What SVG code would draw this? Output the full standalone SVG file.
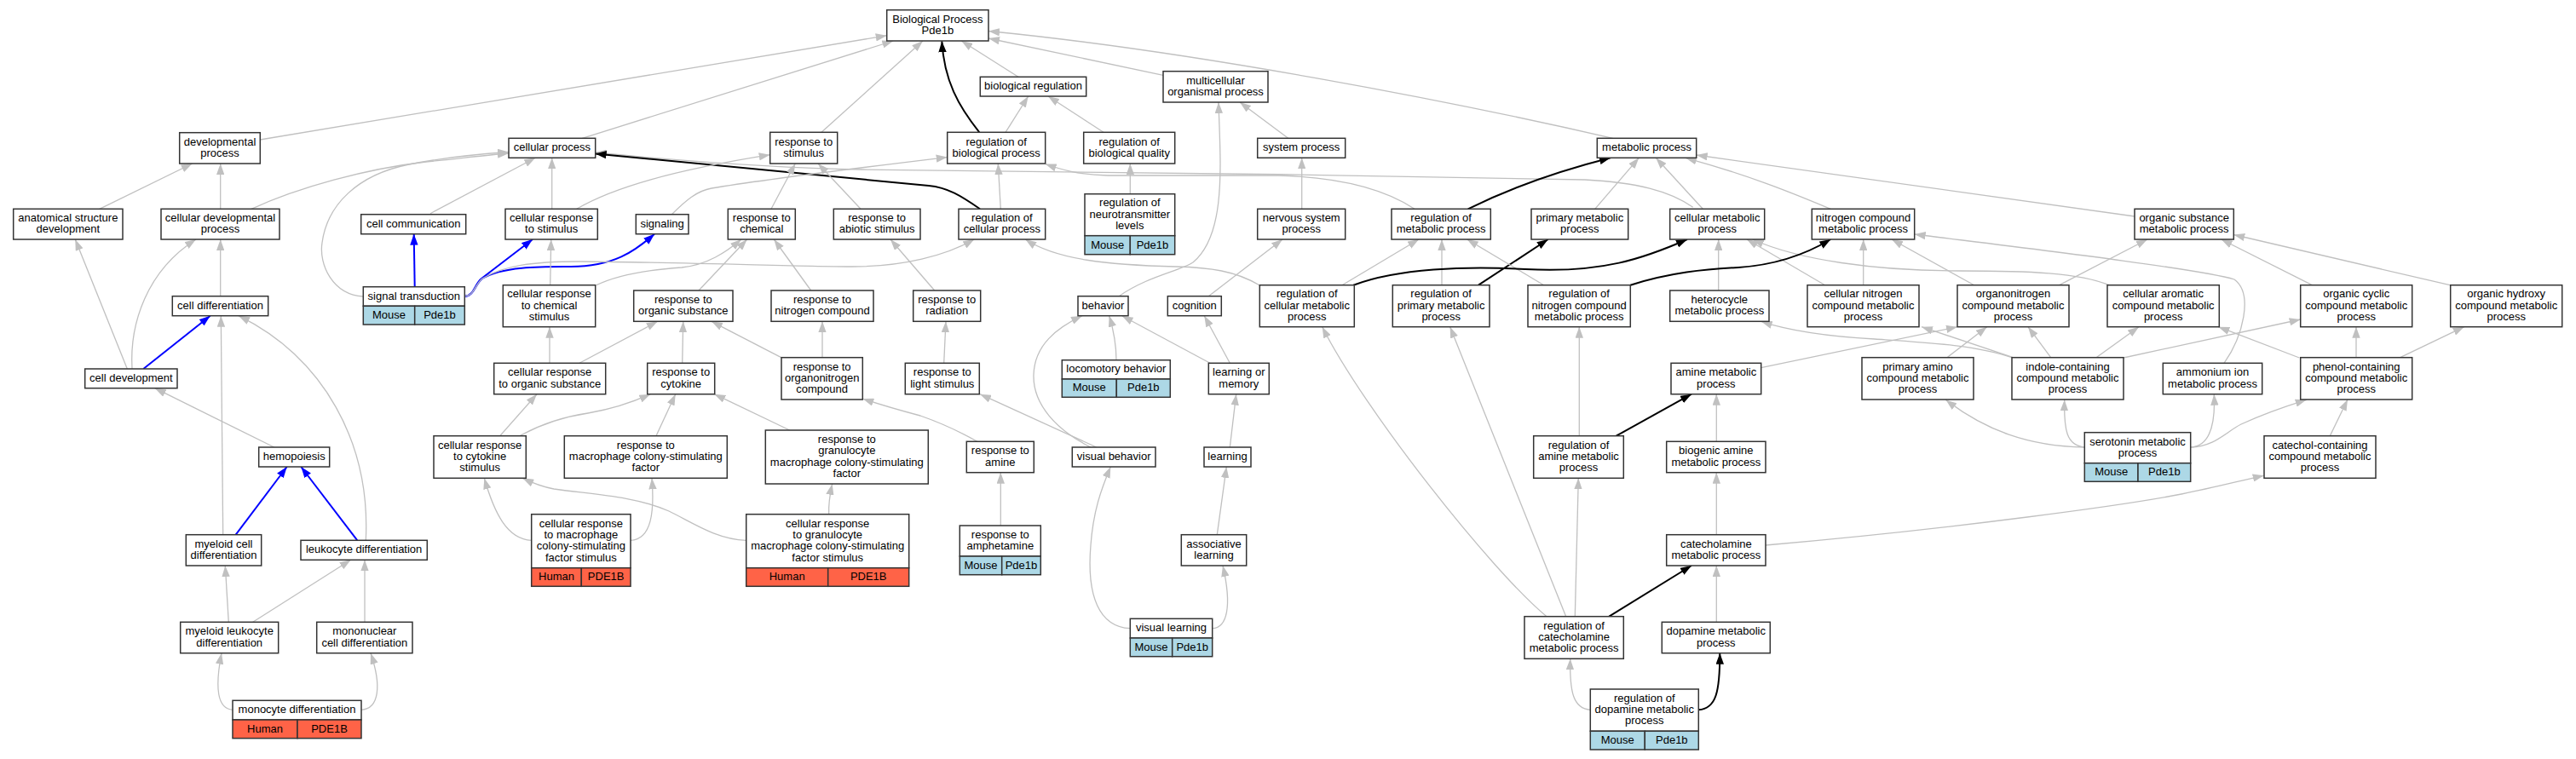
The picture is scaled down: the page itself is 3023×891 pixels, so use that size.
<svg xmlns="http://www.w3.org/2000/svg" width="3023" height="891" viewBox="0 0 3023 891">
<style>
.n rect{stroke:#333;stroke-width:1.5}
rect.w{fill:#fff}
rect.m{fill:#add8e6}
rect.h{fill:#ff6347}
text{font-family:"Liberation Sans",Arial,Helvetica,sans-serif;font-size:13px;text-anchor:middle;fill:#000}
#edges path{fill:none}
path.g{stroke:#c0c0c0;stroke-width:1.3;marker-end:url(#ag)}
path.k{stroke:#000;stroke-width:2;marker-end:url(#ak)}
path.b{stroke:#00f;stroke-width:2;marker-end:url(#ab)}
</style>
<defs>
<marker id="ag" viewBox="0 0 13 9.4" refX="13" refY="4.7" markerWidth="13" markerHeight="9.4" markerUnits="userSpaceOnUse" orient="auto"><path d="M0,0L13,4.7L0,9.4z" fill="#c0c0c0"/></marker>
<marker id="ak" viewBox="0 0 13 9.4" refX="13" refY="4.7" markerWidth="13" markerHeight="9.4" markerUnits="userSpaceOnUse" orient="auto"><path d="M0,0L13,4.7L0,9.4z" fill="#000"/></marker>
<marker id="ab" viewBox="0 0 13 9.4" refX="13" refY="4.7" markerWidth="13" markerHeight="9.4" markerUnits="userSpaceOnUse" orient="auto"><path d="M0,0L13,4.7L0,9.4z" fill="#00f"/></marker>
</defs>
<rect x="0" y="0" width="3023" height="891" fill="#fff"/>
<g id="edges">
<path class="g" d="M305.3,164L1040.7,41.7"/>
<path class="g" d="M683.3,162.3L1048.3,48"/>
<path class="g" d="M964,155.3L1083,48"/>
<path class="g" d="M1195,90.3L1128.3,48"/>
<path class="g" d="M1365,88.3L1160,45"/>
<path class="g" d="M1892.7,162.3C1700,118 1400,60 1160,36.5"/>
<path class="k" d="M1149.3,155.3C1125,125 1108,95 1105.3,48.3"/>
<path class="g" d="M116.7,245.3L225.7,192"/>
<path class="g" d="M258.7,245.3L258.7,192"/>
<path class="g" d="M295,245.3C350,220 430,198 500,190C540,186 570,182 597,180"/>
<path class="g" d="M426.3,348C390,346 374,310 378,285C384,240 420,205 480,193C520,185 560,181 597,178.5"/>
<path class="g" d="M505,250.7L628.3,185.3"/>
<path class="g" d="M647.7,245.3L647.7,185.3"/>
<path class="g" d="M1986.7,243.3C1960,224 1920,214 1860,211C1600,205 1200,201 1010,199C900,197 780,187 698.7,179"/>
<path class="k" d="M1150,245.3C1128,230 1112,220 1090,218L698.7,180.5"/>
<path class="g" d="M788.3,251.7C805,235 818,224 835,221C900,210 1000,198 1111.7,184.5"/>
<path class="g" d="M676.7,245.3C720,220 790,200 903.7,181.7"/>
<path class="g" d="M905,245.3L933.3,192"/>
<path class="g" d="M1010,245.3L960,192"/>
<path class="g" d="M1180,155.3L1206.7,113"/>
<path class="g" d="M1295,155.3L1230,113"/>
<path class="g" d="M1326.3,227.7L1326.3,192"/>
<path class="g" d="M1174.3,245.3L1171.3,192"/>
<path class="g" d="M1660,245.3C1625,222 1570,208 1500,206L1300,206C1265,205 1245,199 1226.7,192.5"/>
<path class="g" d="M1511.7,162.3L1455,120"/>
<path class="g" d="M1313.3,347.7C1345,325 1385,318 1400,308C1440,275 1432,190 1430,120"/>
<path class="g" d="M1527.7,245.3L1527.7,185.3"/>
<path class="g" d="M1418.3,347.7L1505,281"/>
<path class="k" d="M1722.7,245.3C1770,222 1820,203 1890,185.3"/>
<path class="g" d="M1871.7,245.3L1923.3,185.3"/>
<path class="g" d="M1998.3,245.3L1943.3,185.3"/>
<path class="g" d="M2148.3,245.3C2100,225 2050,205 1978,185.3"/>
<path class="g" d="M2505,254L1990.7,182"/>
<path class="k" d="M1735,334.7L1816.7,281"/>
<path class="g" d="M1575,334.7L1665,281"/>
<path class="g" d="M1692,334.7L1692,281"/>
<path class="g" d="M1811.7,334.7L1721.7,281"/>
<path class="k" d="M1588.3,334.7C1640,315 1720,312 1790,316C1880,321 1930,303 1980,281"/>
<path class="g" d="M2016.7,341L2016.7,281"/>
<path class="g" d="M2141.7,334.7L2050,281"/>
<path class="g" d="M2475,334.7C2440,320 2380,318 2300,318C2200,318 2110,305 2056.7,281"/>
<path class="k" d="M1913.3,334.7C1960,320 2000,316 2040,314C2085,311 2120,298 2148.3,281"/>
<path class="g" d="M2186.7,334.7L2186.7,281"/>
<path class="g" d="M2316.7,334.7L2220,281"/>
<path class="g" d="M2610,426.3C2632,395 2645,345 2622,328C2580,315 2350,288 2246.7,275"/>
<path class="g" d="M2416.7,334.7L2520,281"/>
<path class="g" d="M2713.3,334.7L2606.7,281"/>
<path class="g" d="M2875,334.7L2621.3,275.5"/>
<path class="g" d="M2361.7,420C2320,405 2260,402 2200,398C2130,394 2090,385 2066.7,377.3"/>
<path class="g" d="M2361.7,419.3L2255,383.7"/>
<path class="g" d="M2066.7,431.7L2297,383.7"/>
<path class="g" d="M2285,419.7L2331.7,383.7"/>
<path class="g" d="M2406.7,419.7L2380,383.7"/>
<path class="g" d="M2460,419.7L2510,383.7"/>
<path class="g" d="M2698.3,420L2603.3,383.7"/>
<path class="g" d="M2765,419.7L2765,383.7"/>
<path class="g" d="M2492,420L2699.7,375"/>
<path class="g" d="M2816.7,419.7L2891.7,383.7"/>
<path class="k" d="M1896.7,511.7L1985,462.7"/>
<path class="g" d="M2014.3,518.3L2014.3,462.7"/>
<path class="g" d="M2014.3,627.7L2014.3,554.7"/>
<path class="k" d="M1888.3,723.7L1985,664"/>
<path class="g" d="M2014.3,730.3L2014.3,664"/>
<path class="g" d="M2072,640C2300,620 2500,592 2560,580C2600,572 2630,564 2656.7,558.3"/>
<path class="g" d="M2734.3,511.7L2755,469"/>
<path class="g" d="M2446.3,525C2380,524 2330,505 2283.3,469.3"/>
<path class="g" d="M2446.3,525C2425,523 2422,505 2422.7,469.3"/>
<path class="g" d="M2570.7,525C2592,524 2600,500 2598.3,462.7"/>
<path class="g" d="M2570.7,525C2600,524 2612,507 2630,498C2660,484 2685,476 2706.7,469.3"/>
<path class="g" d="M1853.3,511.7L1853.3,383.7"/>
<path class="g" d="M1848.3,723.7L1852.3,561.3"/>
<path class="g" d="M1815,723.7C1750,670 1600,480 1551.7,383.7"/>
<path class="g" d="M1837.7,723.7L1701.7,383.7"/>
<path class="g" d="M1866.3,833.3C1846,832 1842,812 1842.7,773.3"/>
<path class="k" d="M1993.3,833.3C2014,832 2018.3,812 2018.3,766.7"/>
<path class="g" d="M258.7,347.7L258.7,281"/>
<path class="g" d="M155,433C152,380 172,318 230,281"/>
<path class="g" d="M149.3,433L88.3,281"/>
<path class="b" d="M168.3,433L246.7,370.7"/>
<path class="g" d="M261.7,627.7L259.3,370.7"/>
<path class="g" d="M429.3,634.3C435,520 380,420 280,370.7"/>
<path class="g" d="M321.7,525L181.7,455.7"/>
<path class="b" d="M276.7,627.7L336.7,548"/>
<path class="b" d="M419.3,634.3L353.3,548"/>
<path class="g" d="M296.7,730.3L411.7,657.3"/>
<path class="g" d="M428,730.3L428,657.3"/>
<path class="g" d="M268.3,730.3L264.3,664"/>
<path class="g" d="M273,833.3C255,832 252,808 260,766.7"/>
<path class="g" d="M424,833.3C445,832 448,805 435,766.7"/>
<path class="b" d="M486.7,336.7L485.7,274.7"/>
<path class="b" d="M545.3,347.7C556,348 557,333 565,327L625,281"/>
<path class="b" d="M545.3,347.7C556,348 558,333 566,327C590,312 640,313 670,313C720,313 745,295 768,274.7"/>
<path class="g" d="M545.3,347.7C556,348 558,333 566,327C590,312 625,307 680,307C800,308 950,313 1000,313C1060,313 1110,300 1143.3,281"/>
<path class="g" d="M645.7,334.7L646.7,281"/>
<path class="g" d="M700,334.7C730,320 770,316 800,314C830,311 852,296 870,281"/>
<path class="g" d="M820,341L876.7,281"/>
<path class="g" d="M951.7,341L908.3,281"/>
<path class="g" d="M1096.7,341L1045,281"/>
<path class="g" d="M1107.7,426.3L1110,377.3"/>
<path class="g" d="M680,426.3L771.7,377.3"/>
<path class="g" d="M800.7,426.3L801.7,377.3"/>
<path class="g" d="M916.7,419.7L835,377.3"/>
<path class="g" d="M965,419.7L965,377.3"/>
<path class="g" d="M645,426.3L645,383.7"/>
<path class="g" d="M586.7,511.7L630,462.7"/>
<path class="g" d="M610,511.7C640,495 670,488 690,485C720,480 745,471 763.3,462.7"/>
<path class="g" d="M770,511.7L792.7,462.7"/>
<path class="g" d="M926.7,505L838.3,462.7"/>
<path class="g" d="M1146.7,518.3C1120,503 1100,495 1080,488C1050,480 1030,474 1012.3,468"/>
<path class="g" d="M1174.3,617L1174.3,554.7"/>
<path class="g" d="M1286.7,525L1150,462.7"/>
<path class="g" d="M1280,525C1240,505 1212,475 1213,440C1214,405 1240,385 1270,370.7"/>
<path class="g" d="M1310,422.7C1310,400 1306,385 1301.7,370.7"/>
<path class="g" d="M1420,426.3L1316.7,370.7"/>
<path class="g" d="M1443.3,426.3L1413.3,370.7"/>
<path class="g" d="M1443.3,525L1450.7,462.7"/>
<path class="g" d="M1428.3,627.7L1439.3,548"/>
<path class="g" d="M1422.7,737.7C1440,737 1446,712 1435,664"/>
<path class="g" d="M1326.3,737.7C1290,736 1275,700 1280,640C1283,600 1292,575 1303.3,548"/>
<path class="g" d="M623.7,634.3C595,633 580,602 568.3,561.3"/>
<path class="g" d="M875.7,634.3C840,633 812,613 785,600C745,582 690,580 650,574C635,571 625,567 613.3,561.3"/>
<path class="g" d="M740,634.3C765,633 768,600 765,561.3"/>
<path class="g" d="M972.7,603.7C972,590 974,580 976.7,568"/>
<path class="g" d="M1478.3,335C1450,318 1420,314 1380,313C1300,311 1240,305 1203.3,281"/>
</g>
<g id="bp" class="n"><rect class="w" x="1040.7" y="11.7" width="119.3" height="36.3"/><text><tspan x="1100.35" y="26.7">Biological Process</tspan><tspan x="1100.35" y="40">Pde1b</tspan></text></g>
<g id="dev" class="n"><rect class="w" x="210.7" y="155.7" width="94.6" height="36.3"/><text><tspan x="258" y="170.7">developmental</tspan><tspan x="258" y="184">process</tspan></text></g>
<g id="cellproc" class="n"><rect class="w" x="597" y="162.3" width="101.7" height="23"/><text x="647.85" y="177.3">cellular process</text></g>
<g id="respstim" class="n"><rect class="w" x="903.7" y="155.3" width="79" height="36.7"/><text><tspan x="943.2" y="170.5">response to</tspan><tspan x="943.2" y="183.8">stimulus</tspan></text></g>
<g id="biolreg" class="n"><rect class="w" x="1150.3" y="90.3" width="124.4" height="22.7"/><text x="1212.5" y="105.15">biological regulation</text></g>
<g id="multi" class="n"><rect class="w" x="1365" y="83.7" width="123" height="36.3"/><text><tspan x="1426.5" y="98.7">multicellular</tspan><tspan x="1426.5" y="112">organismal process</tspan></text></g>
<g id="regbp" class="n"><rect class="w" x="1111.7" y="155.3" width="115" height="36.7"/><text><tspan x="1169.2" y="170.5">regulation of</tspan><tspan x="1169.2" y="183.8">biological process</tspan></text></g>
<g id="regbq" class="n"><rect class="w" x="1271.7" y="155.3" width="107" height="36.7"/><text><tspan x="1325.2" y="170.5">regulation of</tspan><tspan x="1325.2" y="183.8">biological quality</tspan></text></g>
<g id="sysproc" class="n"><rect class="w" x="1475.7" y="162.3" width="103" height="23"/><text x="1527.2" y="177.3">system process</text></g>
<g id="metab" class="n"><rect class="w" x="1874.3" y="162.3" width="116.4" height="23"/><text x="1932.5" y="177.3">metabolic process</text></g>
<g id="anat" class="n"><rect class="w" x="15.7" y="245.3" width="128.3" height="35.7"/><text><tspan x="79.85" y="260">anatomical structure</tspan><tspan x="79.85" y="273.3">development</tspan></text></g>
<g id="celldevproc" class="n"><rect class="w" x="189" y="245.3" width="139" height="35.7"/><text><tspan x="258.5" y="260">cellular developmental</tspan><tspan x="258.5" y="273.3">process</tspan></text></g>
<g id="cellcomm" class="n"><rect class="w" x="423.7" y="251.7" width="123" height="23"/><text x="485.2" y="266.7">cell communication</text></g>
<g id="cellrespstim" class="n"><rect class="w" x="593" y="245.3" width="108.3" height="35.7"/><text><tspan x="647.15" y="260">cellular response</tspan><tspan x="647.15" y="273.3">to stimulus</tspan></text></g>
<g id="signaling" class="n"><rect class="w" x="746.3" y="251.7" width="61.7" height="23"/><text x="777.15" y="266.7">signaling</text></g>
<g id="respchem" class="n"><rect class="w" x="854.3" y="245.3" width="79" height="35.7"/><text><tspan x="893.8" y="260">response to</tspan><tspan x="893.8" y="273.3">chemical</tspan></text></g>
<g id="respabiotic" class="n"><rect class="w" x="978.3" y="245.3" width="101.7" height="35.7"/><text><tspan x="1029.15" y="260">response to</tspan><tspan x="1029.15" y="273.3">abiotic stimulus</tspan></text></g>
<g id="regcellproc" class="n"><rect class="w" x="1125" y="245.3" width="101.7" height="35.7"/><text><tspan x="1175.85" y="260">regulation of</tspan><tspan x="1175.85" y="273.3">cellular process</tspan></text></g>
<g id="regneuro" class="n"><rect class="w" x="1273" y="227.7" width="105.7" height="49"/><rect class="m" x="1273" y="276.7" width="53.3" height="22"/><rect class="m" x="1326.3" y="276.7" width="52.4" height="22"/><text><tspan x="1325.85" y="242.4">regulation of</tspan><tspan x="1325.85" y="255.7">neurotransmitter</tspan><tspan x="1325.85" y="269">levels</tspan></text><text x="1299.65" y="291.5">Mouse</text><text x="1352.5" y="291.5">Pde1b</text></g>
<g id="nervous" class="n"><rect class="w" x="1475.7" y="245.3" width="103" height="35.7"/><text><tspan x="1527.2" y="260">nervous system</tspan><tspan x="1527.2" y="273.3">process</tspan></text></g>
<g id="regmetab" class="n"><rect class="w" x="1633" y="245.3" width="116.3" height="35.7"/><text><tspan x="1691.15" y="260">regulation of</tspan><tspan x="1691.15" y="273.3">metabolic process</tspan></text></g>
<g id="primmetab" class="n"><rect class="w" x="1797" y="245.3" width="113.7" height="35.7"/><text><tspan x="1853.85" y="260">primary metabolic</tspan><tspan x="1853.85" y="273.3">process</tspan></text></g>
<g id="cellmetab" class="n"><rect class="w" x="1959.7" y="245.3" width="111" height="35.7"/><text><tspan x="2015.2" y="260">cellular metabolic</tspan><tspan x="2015.2" y="273.3">process</tspan></text></g>
<g id="nitro" class="n"><rect class="w" x="2126.3" y="245.3" width="120.4" height="35.7"/><text><tspan x="2186.5" y="260">nitrogen compound</tspan><tspan x="2186.5" y="273.3">metabolic process</tspan></text></g>
<g id="orgsub" class="n"><rect class="w" x="2505" y="245.3" width="116.3" height="35.7"/><text><tspan x="2563.15" y="260">organic substance</tspan><tspan x="2563.15" y="273.3">metabolic process</tspan></text></g>
<g id="celldiff" class="n"><rect class="w" x="202.3" y="347.7" width="112.4" height="23"/><text x="258.5" y="362.7">cell differentiation</text></g>
<g id="sigtrans" class="n"><rect class="w" x="426.3" y="336.7" width="119" height="22.6"/><rect class="m" x="426.3" y="359.3" width="60.4" height="21.7"/><rect class="m" x="486.7" y="359.3" width="58.6" height="21.7"/><text x="485.8" y="351.5">signal transduction</text><text x="456.5" y="374">Mouse</text><text x="516" y="374">Pde1b</text></g>
<g id="cellrespchem" class="n"><rect class="w" x="590.3" y="334.7" width="108.4" height="49"/><text><tspan x="644.5" y="349.4">cellular response</tspan><tspan x="644.5" y="362.7">to chemical</tspan><tspan x="644.5" y="376">stimulus</tspan></text></g>
<g id="resporg" class="n"><rect class="w" x="743.7" y="341" width="116.3" height="36.3"/><text><tspan x="801.85" y="356">response to</tspan><tspan x="801.85" y="369.3">organic substance</tspan></text></g>
<g id="respnitro" class="n"><rect class="w" x="905" y="341" width="120" height="36.3"/><text><tspan x="965" y="356">response to</tspan><tspan x="965" y="369.3">nitrogen compound</tspan></text></g>
<g id="resprad" class="n"><rect class="w" x="1071.7" y="341" width="79" height="36.3"/><text><tspan x="1111.2" y="356">response to</tspan><tspan x="1111.2" y="369.3">radiation</tspan></text></g>
<g id="behavior" class="n"><rect class="w" x="1265" y="347.7" width="59" height="23"/><text x="1294.5" y="362.7">behavior</text></g>
<g id="cognition" class="n"><rect class="w" x="1370.3" y="347.7" width="63" height="23"/><text x="1401.8" y="362.7">cognition</text></g>
<g id="regcellmetab" class="n"><rect class="w" x="1478.3" y="334.7" width="111" height="49"/><text><tspan x="1533.8" y="349.4">regulation of</tspan><tspan x="1533.8" y="362.7">cellular metabolic</tspan><tspan x="1533.8" y="376">process</tspan></text></g>
<g id="regprim" class="n"><rect class="w" x="1634.3" y="334.7" width="113.7" height="49"/><text><tspan x="1691.15" y="349.4">regulation of</tspan><tspan x="1691.15" y="362.7">primary metabolic</tspan><tspan x="1691.15" y="376">process</tspan></text></g>
<g id="regnitro" class="n"><rect class="w" x="1793" y="334.7" width="120.3" height="49"/><text><tspan x="1853.15" y="349.4">regulation of</tspan><tspan x="1853.15" y="362.7">nitrogen compound</tspan><tspan x="1853.15" y="376">metabolic process</tspan></text></g>
<g id="hetero" class="n"><rect class="w" x="1959.7" y="341" width="116.3" height="36.3"/><text><tspan x="2017.85" y="356">heterocycle</tspan><tspan x="2017.85" y="369.3">metabolic process</tspan></text></g>
<g id="cellnitro" class="n"><rect class="w" x="2121" y="334.7" width="131" height="49"/><text><tspan x="2186.5" y="349.4">cellular nitrogen</tspan><tspan x="2186.5" y="362.7">compound metabolic</tspan><tspan x="2186.5" y="376">process</tspan></text></g>
<g id="organonitro" class="n"><rect class="w" x="2297" y="334.7" width="131" height="49"/><text><tspan x="2362.5" y="349.4">organonitrogen</tspan><tspan x="2362.5" y="362.7">compound metabolic</tspan><tspan x="2362.5" y="376">process</tspan></text></g>
<g id="cellarom" class="n"><rect class="w" x="2473" y="334.7" width="131.3" height="49"/><text><tspan x="2538.65" y="349.4">cellular aromatic</tspan><tspan x="2538.65" y="362.7">compound metabolic</tspan><tspan x="2538.65" y="376">process</tspan></text></g>
<g id="orgcyc" class="n"><rect class="w" x="2699.7" y="334.7" width="131" height="49"/><text><tspan x="2765.2" y="349.4">organic cyclic</tspan><tspan x="2765.2" y="362.7">compound metabolic</tspan><tspan x="2765.2" y="376">process</tspan></text></g>
<g id="orghyd" class="n"><rect class="w" x="2875.7" y="334.7" width="131" height="49"/><text><tspan x="2941.2" y="349.4">organic hydroxy</tspan><tspan x="2941.2" y="362.7">compound metabolic</tspan><tspan x="2941.2" y="376">process</tspan></text></g>
<g id="celldev" class="n"><rect class="w" x="99.7" y="433" width="108.3" height="22.7"/><text x="153.85" y="447.85">cell development</text></g>
<g id="cellresporg" class="n"><rect class="w" x="579.7" y="426.3" width="131" height="36.4"/><text><tspan x="645.2" y="441.35">cellular response</tspan><tspan x="645.2" y="454.65">to organic substance</tspan></text></g>
<g id="respcyto" class="n"><rect class="w" x="759.7" y="426.3" width="79" height="36.4"/><text><tspan x="799.2" y="441.35">response to</tspan><tspan x="799.2" y="454.65">cytokine</tspan></text></g>
<g id="resporgnitro" class="n"><rect class="w" x="917" y="419.7" width="95.3" height="49.3"/><text><tspan x="964.65" y="434.55">response to</tspan><tspan x="964.65" y="447.85">organonitrogen</tspan><tspan x="964.65" y="461.15">compound</tspan></text></g>
<g id="resplight" class="n"><rect class="w" x="1062.3" y="426.3" width="87" height="36.4"/><text><tspan x="1105.8" y="441.35">response to</tspan><tspan x="1105.8" y="454.65">light stimulus</tspan></text></g>
<g id="locomotory" class="n"><rect class="w" x="1246.3" y="422.7" width="127" height="22.3"/><rect class="m" x="1246.3" y="445" width="64" height="21.3"/><rect class="m" x="1310.3" y="445" width="63" height="21.3"/><text x="1309.8" y="437.35">locomotory behavior</text><text x="1278.3" y="459.45">Mouse</text><text x="1341.8" y="459.45">Pde1b</text></g>
<g id="learnmem" class="n"><rect class="w" x="1418.3" y="426.3" width="71" height="36.4"/><text><tspan x="1453.8" y="441.35">learning or</tspan><tspan x="1453.8" y="454.65">memory</tspan></text></g>
<g id="amine" class="n"><rect class="w" x="1961" y="426.3" width="105.7" height="36.4"/><text><tspan x="2013.85" y="441.35">amine metabolic</tspan><tspan x="2013.85" y="454.65">process</tspan></text></g>
<g id="primamino" class="n"><rect class="w" x="2185" y="419.7" width="131" height="49.3"/><text><tspan x="2250.5" y="434.55">primary amino</tspan><tspan x="2250.5" y="447.85">compound metabolic</tspan><tspan x="2250.5" y="461.15">process</tspan></text></g>
<g id="indole" class="n"><rect class="w" x="2361" y="419.7" width="131" height="49.3"/><text><tspan x="2426.5" y="434.55">indole-containing</tspan><tspan x="2426.5" y="447.85">compound metabolic</tspan><tspan x="2426.5" y="461.15">process</tspan></text></g>
<g id="ammonium" class="n"><rect class="w" x="2538.3" y="426.3" width="116.4" height="36.4"/><text><tspan x="2596.5" y="441.35">ammonium ion</tspan><tspan x="2596.5" y="454.65">metabolic process</tspan></text></g>
<g id="phenol" class="n"><rect class="w" x="2699.7" y="419.7" width="131" height="49.3"/><text><tspan x="2765.2" y="434.55">phenol-containing</tspan><tspan x="2765.2" y="447.85">compound metabolic</tspan><tspan x="2765.2" y="461.15">process</tspan></text></g>
<g id="hemo" class="n"><rect class="w" x="303.7" y="525" width="83" height="23"/><text x="345.2" y="540">hemopoiesis</text></g>
<g id="cellrespcyto" class="n"><rect class="w" x="509" y="511.7" width="108.3" height="49.6"/><text><tspan x="563.15" y="526.7">cellular response</tspan><tspan x="563.15" y="540">to cytokine</tspan><tspan x="563.15" y="553.3">stimulus</tspan></text></g>
<g id="respmcsf" class="n"><rect class="w" x="662.3" y="511.7" width="191" height="49.6"/><text><tspan x="757.8" y="526.7">response to</tspan><tspan x="757.8" y="540">macrophage colony-stimulating</tspan><tspan x="757.8" y="553.3">factor</tspan></text></g>
<g id="respgmcsf" class="n"><rect class="w" x="898.3" y="505" width="191" height="63"/><text><tspan x="993.8" y="520.05">response to</tspan><tspan x="993.8" y="533.35">granulocyte</tspan><tspan x="993.8" y="546.65">macrophage colony-stimulating</tspan><tspan x="993.8" y="559.95">factor</tspan></text></g>
<g id="respamine" class="n"><rect class="w" x="1134.3" y="518.3" width="79" height="36.4"/><text><tspan x="1173.8" y="533.35">response to</tspan><tspan x="1173.8" y="546.65">amine</tspan></text></g>
<g id="visbeh" class="n"><rect class="w" x="1258.3" y="525" width="97.7" height="23"/><text x="1307.15" y="540">visual behavior</text></g>
<g id="learning" class="n"><rect class="w" x="1413" y="525" width="55" height="23"/><text x="1440.5" y="540">learning</text></g>
<g id="regamine" class="n"><rect class="w" x="1799.7" y="511.7" width="105.6" height="49.6"/><text><tspan x="1852.5" y="526.7">regulation of</tspan><tspan x="1852.5" y="540">amine metabolic</tspan><tspan x="1852.5" y="553.3">process</tspan></text></g>
<g id="biogenic" class="n"><rect class="w" x="1955.7" y="518.3" width="116.3" height="36.4"/><text><tspan x="2013.85" y="533.35">biogenic amine</tspan><tspan x="2013.85" y="546.65">metabolic process</tspan></text></g>
<g id="serotonin" class="n"><rect class="w" x="2446.3" y="507.7" width="124.4" height="36"/><rect class="m" x="2446.3" y="543.7" width="62.7" height="21.6"/><rect class="m" x="2509" y="543.7" width="61.7" height="21.6"/><text><tspan x="2508.5" y="522.55">serotonin metabolic</tspan><tspan x="2508.5" y="535.85">process</tspan></text><text x="2477.65" y="558.3">Mouse</text><text x="2539.85" y="558.3">Pde1b</text></g>
<g id="catechol" class="n"><rect class="w" x="2657" y="511.7" width="131" height="49.6"/><text><tspan x="2722.5" y="526.7">catechol-containing</tspan><tspan x="2722.5" y="540">compound metabolic</tspan><tspan x="2722.5" y="553.3">process</tspan></text></g>
<g id="myeloidcell" class="n"><rect class="w" x="218.3" y="627.7" width="88.4" height="36.3"/><text><tspan x="262.5" y="642.7">myeloid cell</tspan><tspan x="262.5" y="656">differentiation</tspan></text></g>
<g id="leuko" class="n"><rect class="w" x="353" y="634.3" width="148.3" height="23"/><text x="427.15" y="649.3">leukocyte differentiation</text></g>
<g id="crmcsf" class="n"><rect class="w" x="623.7" y="603.7" width="116.3" height="63"/><rect class="h" x="623.7" y="666.7" width="58.6" height="21.6"/><rect class="h" x="682.3" y="666.7" width="57.7" height="21.6"/><text><tspan x="681.85" y="618.75">cellular response</tspan><tspan x="681.85" y="632.05">to macrophage</tspan><tspan x="681.85" y="645.35">colony-stimulating</tspan><tspan x="681.85" y="658.65">factor stimulus</tspan></text><text x="653" y="681.3">Human</text><text x="711.15" y="681.3">PDE1B</text></g>
<g id="crgmcsf" class="n"><rect class="w" x="875.7" y="603.7" width="191" height="63"/><rect class="h" x="875.7" y="666.7" width="96" height="21.6"/><rect class="h" x="971.7" y="666.7" width="95" height="21.6"/><text><tspan x="971.2" y="618.75">cellular response</tspan><tspan x="971.2" y="632.05">to granulocyte</tspan><tspan x="971.2" y="645.35">macrophage colony-stimulating</tspan><tspan x="971.2" y="658.65">factor stimulus</tspan></text><text x="923.7" y="681.3">Human</text><text x="1019.2" y="681.3">PDE1B</text></g>
<g id="respamph" class="n"><rect class="w" x="1126.3" y="617" width="95" height="36"/><rect class="m" x="1126.3" y="653" width="49.4" height="21.7"/><rect class="m" x="1175.7" y="653" width="45.6" height="21.7"/><text><tspan x="1173.8" y="631.85">response to</tspan><tspan x="1173.8" y="645.15">amphetamine</tspan></text><text x="1151" y="667.65">Mouse</text><text x="1198.5" y="667.65">Pde1b</text></g>
<g id="assoc" class="n"><rect class="w" x="1386.3" y="627.7" width="76.4" height="36.3"/><text><tspan x="1424.5" y="642.7">associative</tspan><tspan x="1424.5" y="656">learning</tspan></text></g>
<g id="catecholamine" class="n"><rect class="w" x="1955.7" y="627.7" width="116.3" height="36.3"/><text><tspan x="2013.85" y="642.7">catecholamine</tspan><tspan x="2013.85" y="656">metabolic process</tspan></text></g>
<g id="myeloidleuko" class="n"><rect class="w" x="211.7" y="730.3" width="115" height="36.4"/><text><tspan x="269.2" y="745.35">myeloid leukocyte</tspan><tspan x="269.2" y="758.65">differentiation</tspan></text></g>
<g id="mononuc" class="n"><rect class="w" x="371.7" y="730.3" width="112.3" height="36.4"/><text><tspan x="427.85" y="745.35">mononuclear</tspan><tspan x="427.85" y="758.65">cell differentiation</tspan></text></g>
<g id="vislearn" class="n"><rect class="w" x="1326.3" y="726.3" width="96.4" height="22.7"/><rect class="m" x="1326.3" y="749" width="49.4" height="21.7"/><rect class="m" x="1375.7" y="749" width="47" height="21.7"/><text x="1374.5" y="741.15">visual learning</text><text x="1351" y="763.65">Mouse</text><text x="1399.2" y="763.65">Pde1b</text></g>
<g id="regcatechol" class="n"><rect class="w" x="1789" y="723.7" width="116.3" height="49.6"/><text><tspan x="1847.15" y="738.7">regulation of</tspan><tspan x="1847.15" y="752">catecholamine</tspan><tspan x="1847.15" y="765.3">metabolic process</tspan></text></g>
<g id="dopamine" class="n"><rect class="w" x="1950.3" y="730.3" width="127" height="36.4"/><text><tspan x="2013.8" y="745.35">dopamine metabolic</tspan><tspan x="2013.8" y="758.65">process</tspan></text></g>
<g id="monocyte" class="n"><rect class="w" x="273" y="822.3" width="151" height="22.7"/><rect class="h" x="273" y="845" width="76" height="21.7"/><rect class="h" x="349" y="845" width="75" height="21.7"/><text x="348.5" y="837.15">monocyte differentiation</text><text x="311" y="859.65">Human</text><text x="386.5" y="859.65">PDE1B</text></g>
<g id="regdopa" class="n"><rect class="w" x="1866.3" y="809" width="127" height="49.3"/><rect class="m" x="1866.3" y="858.3" width="64" height="21.7"/><rect class="m" x="1930.3" y="858.3" width="63" height="21.7"/><text><tspan x="1929.8" y="823.85">regulation of</tspan><tspan x="1929.8" y="837.15">dopamine metabolic</tspan><tspan x="1929.8" y="850.45">process</tspan></text><text x="1898.3" y="872.95">Mouse</text><text x="1961.8" y="872.95">Pde1b</text></g>
</svg>
